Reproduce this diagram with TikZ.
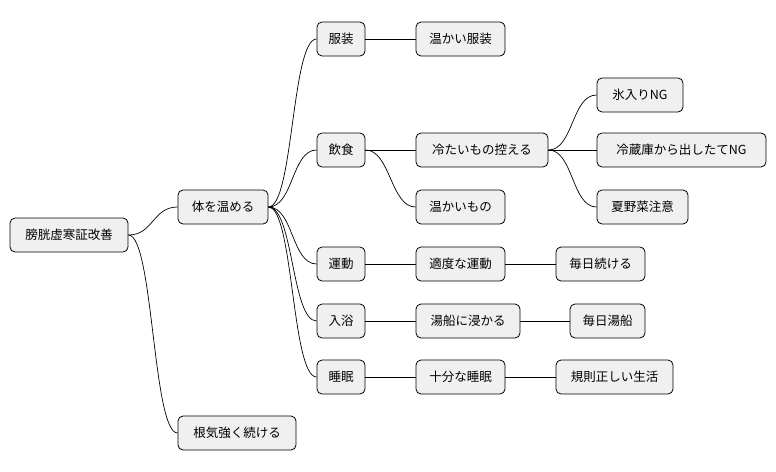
\documentclass[tikz,border=0pt]{standalone}
\usepackage{fontspec}
\setmainfont{Noto Sans CJK JP}
\begin{document}
\begin{tikzpicture}[x=1pt,y=-1pt,
  box/.style={draw=black,fill=black!6,rounded corners=5pt,minimum height=34pt,inner sep=0pt,font=\fontsize{12.5}{14}\selectfont,line width=0.8pt},
  con/.style={draw=black,line width=0.7pt}]
\useasboundingbox (0,0) rectangle (776,471);
\newcommand\bx[4]{\node[box,minimum width=#3pt] (#1) at (#2) {#4};}
\bx{r}{69,235}{118}{膀胱虚寒証改善}
\bx{a}{223,207}{90}{体を温める}
\bx{b}{237,433}{118}{根気強く続ける}
\bx{c1}{341,39}{48}{服装}
\bx{c1a}{460.5,39}{89}{温かい服装}
\bx{c2}{341,150}{48}{飲食}
\bx{c2a}{482,150}{132}{冷たいもの控える}
\bx{c2a1}{640,95}{86}{氷入りNG}
\bx{c2a2}{681.5,150}{169}{冷蔵庫から出したてNG}
\bx{c2a3}{642.5,207}{91}{夏野菜注意}
\bx{c2b}{460.5,207}{89}{温かいもの}
\bx{c3}{341,264}{48}{運動}
\bx{c3a}{460.5,264}{89}{適度な運動}
\bx{c3b}{600.5,264}{89}{毎日続ける}
\bx{c4}{341,321}{48}{入浴}
\bx{c4a}{468,321}{104}{湯船に浸かる}
\bx{c4b}{607.5,321}{75}{毎日湯船}
\bx{c5}{341,377}{48}{睡眠}
\bx{c5a}{460.5,377}{89}{十分な睡眠}
\bx{c5b}{614.5,377}{117}{規則正しい生活}
\newcommand\cn[2]{\draw[con] (#1.east) .. controls +(25,0) and +(-25,0) .. (#2.west);}
\cn{r}{a}\cn{r}{b}
\cn{a}{c1}\cn{a}{c2}\cn{a}{c3}\cn{a}{c4}\cn{a}{c5}
\cn{c1}{c1a}\cn{c2}{c2a}\cn{c2}{c2b}
\cn{c2a}{c2a1}\cn{c2a}{c2a2}\cn{c2a}{c2a3}
\cn{c3}{c3a}\cn{c3a}{c3b}
\cn{c4}{c4a}\cn{c4a}{c4b}
\cn{c5}{c5a}\cn{c5a}{c5b}
\end{tikzpicture}
\end{document}
